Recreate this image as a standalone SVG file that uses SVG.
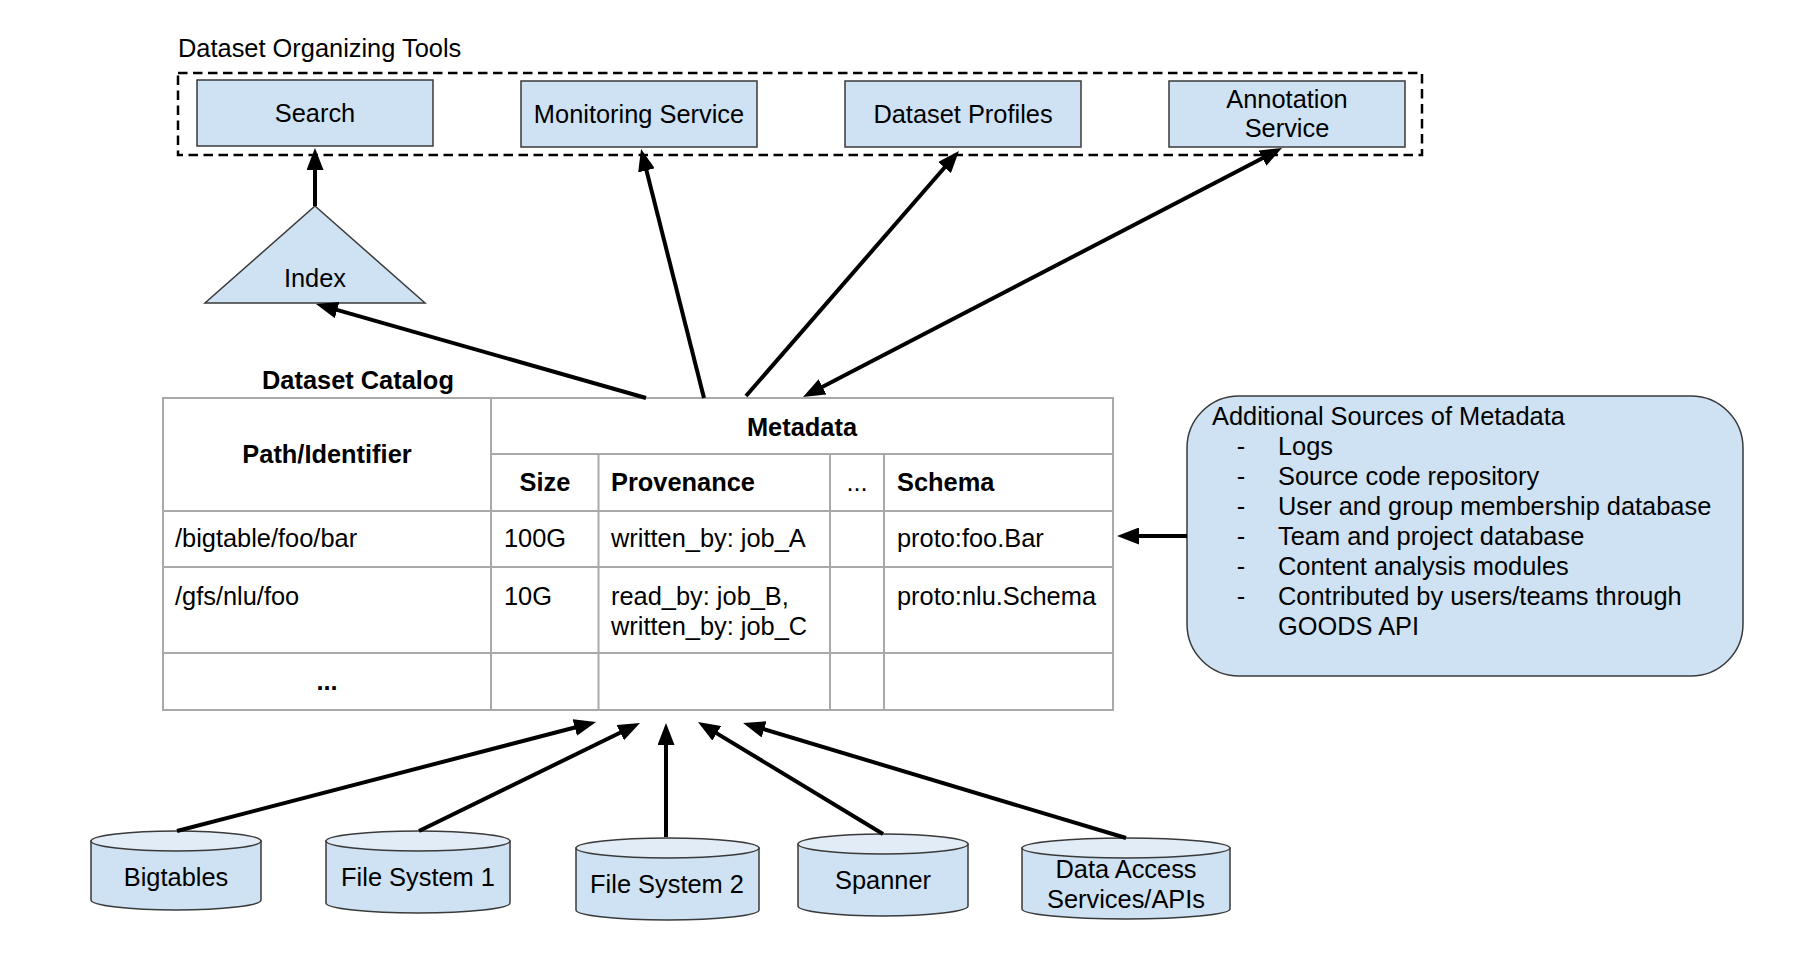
<svg xmlns="http://www.w3.org/2000/svg" width="1796" height="958" viewBox="0 0 1796 958">
  <defs>
    <style>
      text { font-family: "Liberation Sans", Arial, sans-serif; font-size: 25.4px; fill: #000; }
      .b { font-weight: bold; }
      .mid { text-anchor: middle; }
      .box { fill: #cfe2f3; stroke: #3a3a3a; stroke-width: 1.5; }
      .captop { fill: #e2ecf7; stroke: #3a3a3a; stroke-width: 1.5; }
      .grid { stroke: #a9a9a9; stroke-width: 2; fill: none; }
      .conn { stroke: #000; stroke-width: 4; fill: none; }
    </style>
    <marker id="arrow" markerUnits="userSpaceOnUse" markerWidth="22" markerHeight="17" refX="14" refY="8.5" orient="auto-start-reverse">
      <path d="M0,0 L22,8.5 L0,17 Z" fill="#000"/>
    </marker>
  </defs>

  <rect width="1796" height="958" fill="#fff"/>

  <!-- Organizing tools group -->
  <g id="organizing-tools">
    <text x="178" y="57">Dataset Organizing Tools</text>
    <rect x="178" y="73" width="1244" height="82" fill="none" stroke="#000" stroke-width="2.5" stroke-dasharray="9.5 5.5"/>
  </g>
  <g id="search">
    <rect class="box" x="197" y="80" width="236" height="66"/>
    <text class="mid" x="315" y="122">Search</text>
  </g>
  <g id="monitoring">
    <rect class="box" x="521" y="81" width="236" height="66"/>
    <text class="mid" x="639" y="123">Monitoring Service</text>
  </g>
  <g id="profiles">
    <rect class="box" x="845" y="81" width="236" height="66"/>
    <text class="mid" x="963" y="123">Dataset Profiles</text>
  </g>
  <g id="annotation">
    <rect class="box" x="1169" y="81" width="236" height="66"/>
    <text class="mid" x="1287" y="108">Annotation</text>
    <text class="mid" x="1287" y="137">Service</text>
  </g>

  <!-- Index -->
  <g id="index">
    <polygon class="box" points="315,206 425,303 205,303"/>
    <text class="mid" x="315" y="287">Index</text>
  </g>

  <!-- Catalog table -->
  <g id="catalog">
    <text class="b" x="262" y="389">Dataset Catalog</text>
    <rect class="grid" x="163" y="398" width="950" height="312"/>
    <path class="grid" d="M491,398 V710 M491,454 H1113 M598.5,454 V710 M830,454 V710 M884,454 V710 M163,511 H1113 M163,567 H1113 M163,653 H1113"/>
    <text class="b mid" x="327" y="463">Path/Identifier</text>
    <text class="b mid" x="802" y="436">Metadata</text>
    <text class="b mid" x="545" y="491">Size</text>
    <text class="b" x="611" y="491">Provenance</text>
    <text class="mid" x="857" y="491">...</text>
    <text class="b" x="897" y="491">Schema</text>

    <text x="175" y="547">/bigtable/foo/bar</text>
    <text x="504" y="547">100G</text>
    <text x="611" y="547">written_by: job_A</text>
    <text x="897" y="547">proto:foo.Bar</text>

    <text x="175" y="605">/gfs/nlu/foo</text>
    <text x="504" y="605">10G</text>
    <text x="611" y="605">read_by: job_B,</text>
    <text x="611" y="635">written_by: job_C</text>
    <text x="897" y="605">proto:nlu.Schema</text>

    <text class="b mid" x="327" y="690">...</text>
  </g>

  <!-- Additional metadata sources -->
  <g id="additional-sources">
    <rect class="box" x="1187" y="396" width="556" height="280" rx="52" ry="52"/>
    <text x="1212" y="425">Additional Sources of Metadata</text>
    <g>
      <text class="mid" x="1241" y="455">-</text>
      <text class="mid" x="1241" y="485">-</text>
      <text class="mid" x="1241" y="515">-</text>
      <text class="mid" x="1241" y="545">-</text>
      <text class="mid" x="1241" y="575">-</text>
      <text class="mid" x="1241" y="605">-</text>
    </g>
    <text x="1278" y="455">Logs</text>
    <text x="1278" y="485">Source code repository</text>
    <text x="1278" y="515">User and group membership database</text>
    <text x="1278" y="545">Team and project database</text>
    <text x="1278" y="575">Content analysis modules</text>
    <text x="1278" y="605">Contributed by users/teams through</text>
    <text x="1278" y="635">GOODS API</text>
  </g>

  <!-- Storage sources -->
  <g id="bigtables">
    <path class="box" d="M91,841 V900 A85,10 0 0 0 261,900 V841 Z"/>
    <ellipse class="captop" cx="176" cy="841" rx="85" ry="10"/>
    <text class="mid" x="176" y="886">Bigtables</text>
  </g>
  <g id="fs1">
    <path class="box" d="M326,841 V903 A92,10 0 0 0 510,903 V841 Z"/>
    <ellipse class="captop" cx="418" cy="841" rx="92" ry="10"/>
    <text class="mid" x="418" y="886">File System 1</text>
  </g>
  <g id="fs2">
    <path class="box" d="M576,848 V910 A91.5,10 0 0 0 759,910 V848 Z"/>
    <ellipse class="captop" cx="667.5" cy="848" rx="91.5" ry="10"/>
    <text class="mid" x="667" y="893">File System 2</text>
  </g>
  <g id="spanner">
    <path class="box" d="M798,844 V906 A85,10 0 0 0 968,906 V844 Z"/>
    <ellipse class="captop" cx="883" cy="844" rx="85" ry="10"/>
    <text class="mid" x="883" y="889">Spanner</text>
  </g>
  <g id="data-access">
    <path class="box" d="M1022,848 V909 A104,10 0 0 0 1230,909 V848 Z"/>
    <ellipse class="captop" cx="1126" cy="848" rx="104" ry="10"/>
    <text class="mid" x="1126" y="878">Data Access</text>
    <text class="mid" x="1126" y="908">Services/APIs</text>
  </g>

  <!-- Connectors -->
  <g id="connectors" class="conn" marker-end="url(#arrow)">
    <line x1="315" y1="206" x2="315" y2="156"/>
    <line x1="646" y1="398" x2="323.7" y2="306.2"/>
    <line x1="704" y1="398" x2="643" y2="156.8"/>
    <line x1="746" y1="396" x2="953.7" y2="157"/>
    <line x1="810.1" y1="393.3" x2="1274.9" y2="151.7" marker-start="url(#arrow)"/>
    <line x1="1187" y1="536" x2="1125" y2="536"/>
    <line x1="177" y1="831" x2="588.3" y2="724"/>
    <line x1="419" y1="831" x2="632.8" y2="726.5"/>
    <line x1="666" y1="837" x2="666" y2="731"/>
    <line x1="883" y1="834" x2="704.8" y2="726.1"/>
    <line x1="1126" y1="838" x2="750.7" y2="725.3"/>
  </g>
</svg>
